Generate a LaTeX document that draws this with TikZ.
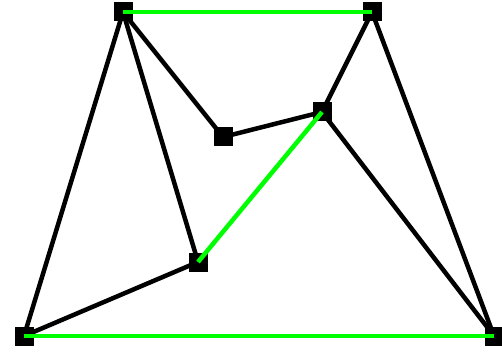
\documentclass[tikz,border=0pt]{standalone}
\usetikzlibrary{backgrounds}
\definecolor{edgegreen}{RGB}{0,255,0}

\tikzset{
  vert/.style={rectangle, fill=black, inner sep=0pt, minimum size=19pt},
  plain/.style={line width=4.5pt, black},
  match/.style={line width=4.5pt, edgegreen}
}

\begin{document}
\begin{tikzpicture}[x=1pt,y=-1pt]
  \useasboundingbox (0,0) rectangle (502,352);
  % vertices
  \node[vert] (a) at (123,12) {};
  \node[vert] (b) at (372,12) {};
  \node[vert] (c) at (223,137) {};
  \node[vert] (d) at (322,112) {};
  \node[vert] (e) at (198,262) {};
  \node[vert] (f) at (24,336) {};
  \node[vert] (g) at (494,336) {};
  % black edges, under the vertices
  \begin{scope}[on background layer]
    \draw[plain] (a.center) -- (c.center);
    \draw[plain] (a.center) -- (e.center);
    \draw[plain] (a.center) -- (f.center);
    \draw[plain] (b.center) -- (d.center);
    \draw[plain] (b.center) -- (g.center);
    \draw[plain] (c.center) -- (d.center);
    \draw[plain] (d.center) -- (g.center);
    \draw[plain] (e.center) -- (f.center);
  \end{scope}
  % green edges on top
  \draw[match] (a.center) -- (b.center);
  \draw[match] (d.center) -- (e.center);
  \draw[match] (f.center) -- (g.center);
\end{tikzpicture}
\end{document}
